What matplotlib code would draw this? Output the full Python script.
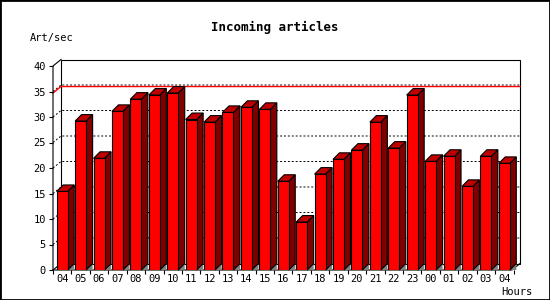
import matplotlib
matplotlib.use('Agg')
import matplotlib.pyplot as plt
from matplotlib.patches import Polygon, Rectangle

# Données
hours = ['04', '05', '06', '07', '08', '09', '10', '11', '12', '13', '14', '15', '16',
         '17', '18', '19', '20', '21', '22', '23', '00', '01', '02', '03', '04']
rates = [15.4, 29.2, 21.9, 31.1, 33.5, 34.3, 34.7, 29.5, 29.0, 30.9, 31.9, 31.5, 17.4,
         9.4, 18.8, 21.7, 23.5, 29.0, 23.9, 34.3, 21.3, 22.3, 16.4, 22.3, 20.9]
y_ticks = [0, 5, 10, 15, 20, 25, 30, 35, 40]
max_line = 34.7

# Géométrie (en pixels, figure 550x300)
PX_X = 18.42          # pixels par barre
PX_Y = 5.1            # pixels par unité
DX = 6.5 / PX_X       # profondeur 3D des barres
DY = 6.5 / PX_Y
WDX = 8 / PX_X        # profondeur 3D du mur du fond
WDY = 6.5 / PX_Y
BAR_W = 11 / PX_X

plt.rcParams['font.family'] = 'DejaVu Sans Mono'

fig = plt.figure(figsize=(5.5, 3), dpi=100)
fig.patch.set_facecolor('white')
top_px = 270 - (40 + WDY) * PX_Y
ax = fig.add_axes([53 / 550, 30 / 300, 467 / 550, (270 - top_px) / 300])
xmax = -0.5 + 467 / PX_X
ax.set_xlim(-0.5, xmax)
ax.set_ylim(0, 40 + WDY)
for s in ax.spines.values():
    s.set_visible(False)

lw = 0.8

# Mur du fond
ax.add_patch(Rectangle((-0.5 + WDX, WDY), xmax - (-0.5 + WDX), 40, fill=False,
                       ec='black', lw=lw, clip_on=False, zorder=1))

# Lignes de grille pointillées
for v in y_ticks[1:-1]:
    ax.plot([-0.5, -0.5 + WDX, xmax], [v, v + WDY, v + WDY], color='black',
            ls=(0, (2, 2)), lw=0.7, clip_on=False, zorder=1)

# Ligne rouge (maximum)
ax.plot([-0.5, -0.5 + WDX, xmax], [max_line, max_line + WDY, max_line + WDY],
        color='red', lw=1, clip_on=False, zorder=1.5)

# Axes avant
ax.plot([-0.5, -0.5, -0.5 + WDX], [0, 40, 40 + WDY], color='black', lw=lw,
        clip_on=False, zorder=2)
ax.plot([-0.5, xmax - WDX, xmax], [0, 0, WDY], color='black', lw=lw,
        clip_on=False, zorder=2)
ax.plot([-0.5, -0.5 + WDX], [0, WDY], color='black', lw=lw, clip_on=False, zorder=2)

# Barres 3D
x = list(range(len(rates)))
ax.bar(x, rates, width=BAR_W, color='#ff0000', edgecolor='black', lw=lw, zorder=4)
for i, v in zip(x, rates):
    x0 = i - BAR_W / 2
    x1 = i + BAR_W / 2
    ax.add_patch(Polygon([(x1, 0), (x1 + DX, DY), (x1 + DX, 0)], closed=True,
                         fc='#808080', ec='none', zorder=3, clip_on=False))
    ax.add_patch(Polygon([(x1, 0), (x1 + DX, DY), (x1 + DX, v + DY), (x1, v)],
                         closed=True, fc='#800000', ec='black', lw=lw, zorder=3,
                         clip_on=False))
    ax.add_patch(Polygon([(x0, v), (x1, v), (x1 + DX, v + DY), (x0 + DX, v + DY)],
                         closed=True, fc='#c00000', ec='black', lw=lw, zorder=3,
                         clip_on=False))

# Graduations
ax.set_yticks(y_ticks)
ax.set_yticklabels([str(t) for t in y_ticks])
ax.tick_params(axis='y', length=3, width=lw, pad=2, labelsize=7.5)
ax.set_xticks([i - 0.5 for i in range(len(rates) + 1)])
ax.set_xticklabels([])
ax.set_xticks(x, minor=True)
ax.set_xticklabels(hours, minor=True)
ax.tick_params(axis='x', which='major', length=3, width=lw)
ax.tick_params(axis='x', which='minor', length=0, pad=3, labelsize=7.5)

# Textes
fig.text(0.5, 1 - 27 / 300, 'Incoming articles', ha='center', va='center',
         fontsize=9, fontweight='bold')
fig.text(30 / 550, 1 - 38 / 300, 'Art/sec', ha='left', va='center', fontsize=7.5)
fig.text(533 / 550, 1 - 292 / 300, 'Hours', ha='right', va='center', fontsize=7.5)

# Cadre de la figure
fig.add_artist(Rectangle((0, 0), 1, 1, transform=fig.transFigure, fill=False,
                         ec='black', lw=2))

plt.savefig('out.png', dpi=100)
plt.close()
